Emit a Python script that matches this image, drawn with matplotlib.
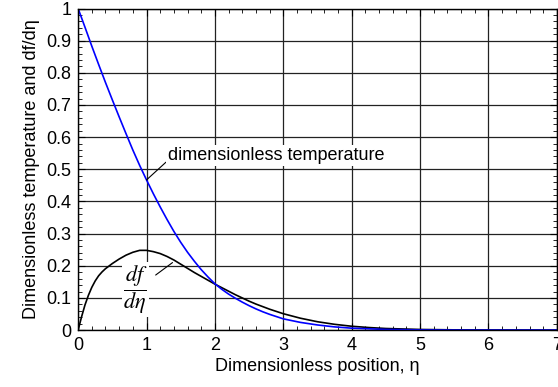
import matplotlib
matplotlib.use("Agg")
import matplotlib.pyplot as plt
from matplotlib.ticker import MultipleLocator, FormatStrFormatter

plt.rcParams["font.family"] = ["Liberation Sans", "DejaVu Sans"]
plt.rcParams["mathtext.fontset"] = "stix"

# dimensionless position
eta_temp = [0.0, 0.1, 0.2, 0.3, 0.4, 0.5, 0.6, 0.7, 0.8, 0.9, 1.0,
            1.1, 1.2, 1.3, 1.4, 1.5, 1.6, 1.7, 1.8, 1.9, 2.0,
            2.1, 2.2, 2.3, 2.4, 2.5, 2.6, 2.7, 2.8, 2.9, 3.0,
            3.25, 3.5, 3.75, 4.0, 4.5, 5.0, 5.5, 6.0, 7.0]
# dimensionless temperature
theta = [1.0, 0.942, 0.883, 0.826, 0.770, 0.716, 0.663, 0.611, 0.560, 0.512, 0.467,
         0.424, 0.383, 0.344, 0.307, 0.273, 0.242, 0.214, 0.188, 0.165, 0.144,
         0.127, 0.112, 0.099, 0.087, 0.076, 0.066, 0.057, 0.049, 0.042, 0.035,
         0.024, 0.016, 0.010, 0.006, 0.002, 0.0007, 0.0002, 0.0, 0.0]

eta_vel = [0.0, 0.05, 0.1, 0.15, 0.2, 0.25, 0.3, 0.35, 0.4, 0.5, 0.6, 0.7, 0.8, 0.9, 1.0,
           1.1, 1.2, 1.3, 1.4, 1.5, 1.6, 1.7, 1.8, 1.9, 2.0,
           2.1, 2.2, 2.3, 2.4, 2.5, 2.6, 2.7, 2.8, 2.9, 3.0,
           3.25, 3.5, 3.75, 4.0, 4.25, 4.5, 5.0, 5.5, 6.0, 7.0]
# df/deta
dfdeta = [0.0, 0.041, 0.078, 0.108, 0.133, 0.153, 0.169, 0.181, 0.191, 0.207, 0.221,
          0.233, 0.242, 0.248, 0.248,
          0.244, 0.238, 0.229, 0.218, 0.205, 0.192, 0.179, 0.167, 0.155, 0.143,
          0.132, 0.121, 0.110, 0.100, 0.090, 0.081, 0.073, 0.065, 0.058, 0.051,
          0.037, 0.026, 0.018, 0.012, 0.008, 0.005, 0.002, 0.0008, 0.0003, 0.0]

fig = plt.figure(figsize=(5.58, 3.87), dpi=100)
ax = fig.add_axes([0.14, 0.147, 0.858, 0.831])

ax.grid(True, which="major", color="#222222", lw=0.9)
ax.set_axisbelow(True)

ax.plot(eta_vel, dfdeta, color="black", lw=1.2)
ax.plot(eta_temp, theta, color="#0000ff", lw=1.2)

ax.set_xlim(0, 7)
ax.set_ylim(0, 1)
ax.xaxis.set_major_locator(MultipleLocator(1))
ax.xaxis.set_minor_locator(MultipleLocator(0.2))
ax.yaxis.set_major_locator(MultipleLocator(0.1))
ax.yaxis.set_minor_locator(MultipleLocator(0.02))
ax.yaxis.set_major_formatter(FormatStrFormatter("%g"))
ax.tick_params(which="both", direction="in", top=True, right=True, labelsize=13, pad=5)
ax.tick_params(which="major", length=5)
ax.tick_params(which="minor", length=3)
for s in ax.spines.values():
    s.set_linewidth(1.0)

ax.set_xlabel("Dimensionless position, η", fontsize=13, labelpad=3)
ax.set_ylabel("Dimensionless temperature and df/dη", fontsize=13, labelpad=4)

ax.annotate("dimensionless temperature", xy=(1.0, 0.467), xytext=(1.31, 0.543),
            fontsize=13, va="center", ha="left",
            bbox=dict(boxstyle="square,pad=0.1", fc="white", ec="none"),
            arrowprops=dict(arrowstyle="-", color="black", lw=0.8,
                            shrinkA=0, shrinkB=0, relpos=(0, 0.2)))

ax.annotate(r"$\dfrac{df}{d\eta}$", xy=(1.38, 0.21), xytext=(0.84, 0.125),
            fontsize=16, va="center", ha="center",
            bbox=dict(boxstyle="square,pad=0.05", fc="white", ec="none"),
            arrowprops=dict(arrowstyle="-", color="black", lw=0.8,
                            shrinkA=6, shrinkB=0))

fig.savefig("out.png", dpi=100)
